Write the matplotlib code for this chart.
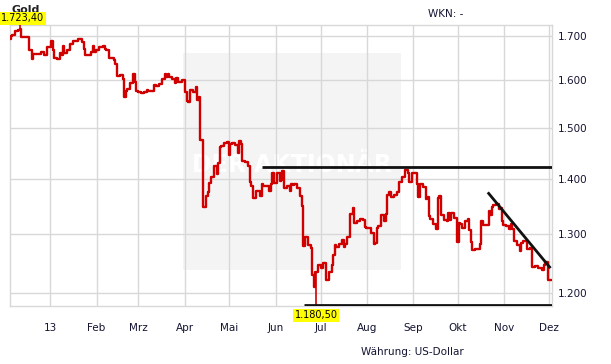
import matplotlib
matplotlib.use("Agg")
import matplotlib.pyplot as plt
import matplotlib.ticker as mticker
import matplotlib.dates as mdates
import pandas as pd
import numpy as np

# ---------------- data ----------------
start_date = "2012-12-05"
end_date = "2013-12-02"
closes = [
    1693, 1700, 1702,
    1710, 1714, 1716, 1696, 1697,
    1697, 1668, 1667, 1648, 1658,
    1659, 1659, 1662, 1663, 1656,
    1675, 1675, 1688, 1667, 1650,
    1646, 1661, 1657, 1677, 1661,
    1668, 1681, 1680, 1687, 1687,
    1692, 1693, 1685, 1670, 1657,
    1655, 1662, 1677, 1663, 1668,
    1674, 1674, 1677, 1670, 1667,
    1649, 1650, 1644, 1636, 1609,
    1611, 1603, 1564, 1577, 1581,
    1595, 1614, 1596, 1578, 1576,
    1572, 1574, 1575, 1580, 1577,
    1578, 1590, 1588, 1588, 1593,
    1604, 1613, 1607, 1613, 1607,
    1604, 1595, 1606, 1597, 1597,
    1600, 1576, 1555, 1554, 1580,
    1575, 1585, 1558, 1565, 1476,
    1348, 1368, 1376, 1393, 1403,
    1424, 1409, 1430, 1462, 1465,
    1470, 1472, 1446, 1468, 1470,
    1466, 1450, 1473, 1468, 1435,
    1433, 1425, 1394, 1386, 1364,
    1377, 1378, 1369, 1391, 1386,
    1386, 1378, 1391, 1412, 1392,
    1412, 1397, 1398, 1415, 1383,
    1386, 1378, 1390, 1388, 1390,
    1383, 1368, 1350, 1278, 1294,
    1281, 1275, 1230, 1210, 1234,
    1247, 1242, 1250, 1250, 1222,
    1235, 1246, 1263, 1280, 1277,
    1283, 1290, 1277, 1283, 1295,
    1335, 1346, 1319, 1320, 1322,
    1327, 1324, 1312, 1310, 1311,
    1302, 1282, 1284, 1311, 1313,
    1334, 1323, 1335, 1370, 1376,
    1366, 1370, 1370, 1375, 1395,
    1403, 1418, 1418, 1411, 1395,
    1412, 1412, 1390, 1367, 1390,
    1385, 1362, 1366, 1331, 1326,
    1318, 1309, 1365, 1369, 1333,
    1325, 1322, 1337, 1325, 1338,
    1328, 1286, 1320, 1317, 1310,
    1322, 1326, 1307, 1285, 1272,
    1274, 1273, 1283, 1322, 1315,
    1315, 1340, 1333, 1348, 1352,
    1353, 1345, 1347, 1323, 1316,
    1314, 1309, 1318, 1308, 1287,
    1281, 1270, 1284, 1287, 1288,
    1274, 1275, 1243, 1243, 1244,
    1242, 1242, 1238, 1246, 1251,
    1222,
]
high_date, high_value, high_label = "2012-12-12", 1723.4, "1.723,40"
low_date, low_value, low_label = "2013-06-28", 1180.5, "1.180,50"

month_ticks = ["2013-01-01", "2013-02-01", "2013-03-01", "2013-04-01", "2013-05-01",
               "2013-06-01", "2013-07-01", "2013-08-01", "2013-09-01", "2013-10-01",
               "2013-11-01", "2013-12-01"]
month_labels = ["13", "Feb", "Mrz", "Apr", "Mai", "Jun", "Jul", "Aug", "Sep", "Okt", "Nov", "Dez"]
y_ticks = [1200, 1300, 1400, 1500, 1600, 1700]
y_labels = ["1.200", "1.300", "1.400", "1.500", "1.600", "1.700"]

# trend lines (date, value) pairs
resistance = [("2013-05-23", 1423), ("2013-12-03", 1423)]
support = [("2013-06-20", 1180.5), ("2013-12-03", 1180.5)]
downtrend = [("2013-10-21", 1375), ("2013-12-02", 1241)]

title = "Gold"
wkn = "WKN: -"
currency = "Währung: US-Dollar"
watermark = "DER AKTIONÄR"

# ---------------- plot ----------------
W, H = 611, 364
fig = plt.figure(figsize=(W / 100, H / 100), dpi=100)
fig.patch.set_facecolor("white")

def fx(x):
    return x / W

def fy(y):
    return 1 - y / H

left, right, top, bottom = 10, 552, 25, 306
ax = fig.add_axes([fx(left), fy(bottom), (right - left) / W, (bottom - top) / H])

dates = pd.bdate_range(start_date, end_date)
closes_arr = np.array(closes, dtype=float)

red = "#d00000"
textc = "#141433"
gridc = "#d8d8d8"

# watermark box
ax.add_patch(plt.Rectangle((0.319, 0.128), 0.402, 0.772, transform=ax.transAxes,
                           facecolor="#f4f4f4", edgecolor="none", zorder=0))
ax.text(0.52, 0.50, watermark, transform=ax.transAxes, ha="center", va="center",
        fontsize=17, fontweight="bold", color="white", zorder=0.5)

ax.set_yscale("log")
ax.plot(dates, closes_arr, drawstyle="steps-mid", color=red, lw=1.7, zorder=3)
ax.vlines([pd.Timestamp(high_date)], [closes_arr[list(dates).index(pd.Timestamp(high_date))]],
          [high_value], color=red, lw=1.2, zorder=3)
ax.vlines([pd.Timestamp(low_date)], [low_value],
          [closes_arr[list(dates).index(pd.Timestamp(low_date))]], color=red, lw=1.2, zorder=3)

for seg in (resistance, support, downtrend):
    xs = [pd.Timestamp(d) for d, v in seg]
    ys = [v for d, v in seg]
    ax.plot(xs, ys, color="#111111", lw=2.0, zorder=4, solid_capstyle="butt")

ax.set_xlim(pd.Timestamp("2012-12-05"), pd.Timestamp("2013-12-03"))
ax.set_ylim(1179, 1724.5)

ax.xaxis.set_major_locator(mticker.FixedLocator(mdates.date2num(pd.to_datetime(month_ticks))))
ax.xaxis.set_major_formatter(mticker.FixedFormatter(month_labels))
ax.yaxis.set_major_locator(mticker.FixedLocator(y_ticks))
ax.yaxis.set_major_formatter(mticker.FixedFormatter(y_labels))
ax.yaxis.set_minor_locator(mticker.NullLocator())
ax.xaxis.set_minor_locator(mticker.NullLocator())
ax.yaxis.tick_right()

ax.tick_params(axis="both", length=0, labelsize=7.5, labelcolor=textc)
ax.tick_params(axis="x", pad=12)
ax.tick_params(axis="y", pad=4)

ax.grid(True, color=gridc, lw=1.0, zorder=1)
ax.set_axisbelow(True)
for s in ax.spines.values():
    s.set_color(gridc)
    s.set_linewidth(1.0)

# texts
fig.text(fx(12), fy(10), title, fontsize=8, fontweight="bold", color="#222222", ha="left", va="center")
fig.text(fx(1), fy(18.5), high_label, fontsize=7, color="black", ha="left", va="center",
         bbox=dict(boxstyle="square,pad=0.15", facecolor="#ffff00", edgecolor="none"))
fig.text(fx(428), fy(14), wkn, fontsize=7.5, color=textc, ha="left", va="center")
fig.text(fx(361), fy(352), currency, fontsize=7.5, color=textc, ha="left", va="center")
ax.annotate(low_label, xy=(pd.Timestamp(low_date), low_value), xytext=(0, -10),
            textcoords="offset pixels", ha="center", va="center", fontsize=7, color="black",
            bbox=dict(boxstyle="square,pad=0.15", facecolor="#ffff00", edgecolor="none"),
            annotation_clip=False, zorder=5)

fig.savefig("out.png", dpi=100)
